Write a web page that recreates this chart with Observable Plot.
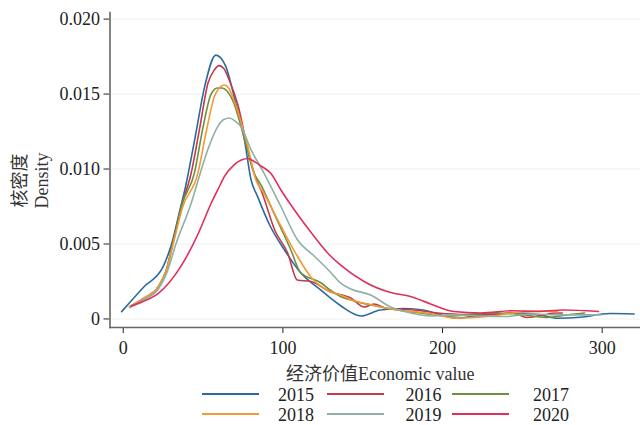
<!DOCTYPE html>
<html><head><meta charset="utf-8">
<script src="https://cdn.jsdelivr.net/npm/d3@7"></script>
<script src="https://cdn.jsdelivr.net/npm/@observablehq/plot@0.6"></script>
<style>
body{margin:0;background:#fff;}
#wrap{position:relative;width:640px;height:425px;font-family:"Liberation Serif","Times New Roman","Noto Sans CJK SC",serif;}
#legend{position:relative;height:40px;width:640px;}
.sw{position:absolute;height:2px;width:57px;}
.lb{position:absolute;font-size:18px;line-height:12px;height:12px;color:#222;}
</style></head><body>
<div id="wrap"><div id="chart"></div><div id="legend"></div></div>
<script>
const years = ["2015","2016","2017","2018","2019","2020"];
const colors = ["#2c6a9e","#c23a4c","#6e8f3d","#f29a38","#8fb0a3","#e02f5b"];
const xTicks = [0,100,200,300];
const yTicks = [0,0.005,0.010,0.015,0.020];
const xLabel = "经济价值Economic value";
const yLabelCn = "核密度";
const yLabelEn = "Density";

const x2015 = [-1,13,25,31,35,39,45,51,58,64,70,76,80,84,92,101,111,124,136,149,161,176,188,199,209,218,228,249,261,272,286,305,320];
const d2015 = [.00049,.00215,.00349,.00527,.00704,.00882,.0121,.0155,.0176,.0169,.0146,.0119,.0093,.0082,.0062,.0046,.0031,.0019,.0009,.0002,.0006,.0007,.0006,.00027,.00005,.00016,.00027,.0004,.00027,.00005,.00011,.00036,.00033];

const x2016 = [4,13,22,27,32,37,42.5,48,53,57,60,63,66.5,72,78,82,87,95,103,109,117.5,130,142.5,151,157,165,182,197,215,232,244,253,265,270,275];
const d2016 = [.00082,.00138,.00215,.00327,.00549,.0077,.0097,.0128,.0157,.0166,.0169,.0167,.0159,.0142,.0113,.0097,.0084,.0059,.0044,.0026,.0025,.0018,.0014,.0008,.0010,.0007,.0006,.0004,.0003,.0003,.0004,.0001,.0003,.0004,.0004];

const x2017 = [4,13,22,27,32,37,44.5,50,55,59,62,65,68.5,75,82,86,94.6,105,111,124,130,136,144.6,157,171.7,186,203,217.5,234,249,265,280,289];
const d2017 = [.00082,.00138,.00215,.00327,.00549,.0077,.0097,.0128,.0150,.0154,.0154,.0152,.0146,.0124,.0097,.0090,.0070,.0046,.0031,.0024,.0019,.0015,.0012,.0009,.0006,.0004,.0002,.0003,.0004,.0003,.0001,.0003,.0004];

const x2018 = [4,13,22,27,32,37,46.7,52,57,61,63.3,66,70.6,78,83,88,98.75,109,117.5,128,136,142.5,157,171.7,190,209,228,244.6,259,272];
const d2018 = [.00082,.00138,.00215,.00327,.0053,.0074,.0097,.0125,.0148,.0155,.0156,.0154,.0142,.0115,.0093,.0084,.0062,.0042,.0028,.0019,.0016,.0013,.0009,.0006,.0004,.00005,.00016,.0004,.00052,.00049];

const x2019 = [4,13,22,27,33,42.5,48.75,53,59,63,66.5,70,73.8,80,88.3,98.75,109,119.6,130,136,142.5,155,167.5,180,192.5,205,224,240,255,274,299];
const d2019 = [.00075,.0013,.0020,.0030,.0050,.0077,.0099,.0113,.0128,.0133,.0134,.0132,.0128,.0113,.0097,.0075,.0053,.0042,.0031,.0024,.0020,.0016,.0008,.0004,.0002,.00027,.0002,.00016,.00033,.00027,.00027];

const x2020 = [5,12,22,36,47,55,61,63.3,69.6,74,78,82,86.3,92.5,98.75,107,119.6,128,136,150.8,167.5,180,192.5,207,224,244.6,259,276,297.7];
const d2020 = [.00087,.00115,.00171,.00349,.0057,.0077,.0090,.0095,.0103,.0106,.0107,.0105,.0102,.0097,.0086,.0073,.0055,.0044,.0036,.0025,.00176,.0015,.0010,.0005,.0004,.00055,.0005,.0006,.0005];

const series = [[x2015,d2015],[x2016,d2016],[x2017,d2017],[x2018,d2018],[x2019,d2019],[x2020,d2020]];
const rows = [];
series.forEach(([xs,ds],i)=>xs.forEach((v,j)=>rows.push({year:years[i],v,d:ds[j]})));

const font = '"Liberation Serif","Times New Roman","Noto Sans CJK SC",serif';
const xDomain = [-8.3, 324];
const yDomain = [-0.00057, 0.02044];

const chart = Plot.plot({
  width: 640, height: 385,
  marginLeft: 109.5, marginRight: 0, marginTop: 12, marginBottom: 58,
  style: {fontFamily: font, fontSize: "18px", color: "#222", background: "#fff"},
  x: {domain: xDomain, ticks: xTicks, tickSize: 6, tickPadding: 8, label: null},
  y: {domain: yDomain, ticks: yTicks, tickSize: 6, tickPadding: 4, label: null,
      tickFormat: d => d === 0 ? "0" : d3.format(".3f")(d)},
  color: {domain: years, range: colors},
  marks: [
    Plot.gridY(yTicks, {stroke: "#eef2f2", strokeOpacity: 1}),
    Plot.line(rows, {x: "v", y: "d", z: "year", stroke: "year", strokeWidth: 1.6, curve: "monotone-x"}),
    Plot.frame({anchor: "left", stroke: "#666", strokeWidth: 1.6}),
    Plot.frame({anchor: "bottom", stroke: "#666", strokeWidth: 1.6}),
    Plot.text([yLabelCn], {text: d => d, frameAnchor: "left", textAnchor: "middle", dx: -90, dy: 10.5, rotate: -90, fontSize: 18, fill: "#333"}),
    Plot.text([yLabelEn], {text: d => d, frameAnchor: "left", textAnchor: "middle", dx: -68, dy: 10.5, rotate: -90, fontSize: 18, fill: "#333"}),
    Plot.text([xLabel], {text: d => d, frameAnchor: "bottom", lineAnchor: "middle", dx: 5, dy: 47, fontSize: 18, fill: "#333"})
  ]
});
document.getElementById("chart").appendChild(chart);

const leg = document.getElementById("legend");
years.forEach((y,i)=>{
  const col = i % 3, row = Math.floor(i/3);
  const left = 202 + col*125;
  const sw = document.createElement("div");
  sw.className = "sw";
  sw.style.left = left + "px";
  sw.style.top = (8 + row*20) + "px";
  sw.style.background = colors[i];
  leg.appendChild(sw);
  const lb = document.createElement("div");
  lb.className = "lb";
  lb.style.left = (left + 76 + col*2.5) + "px";
  lb.style.top = (3.8 + row*20) + "px";
  lb.textContent = y;
  leg.appendChild(lb);
});
</script>
</body></html>
